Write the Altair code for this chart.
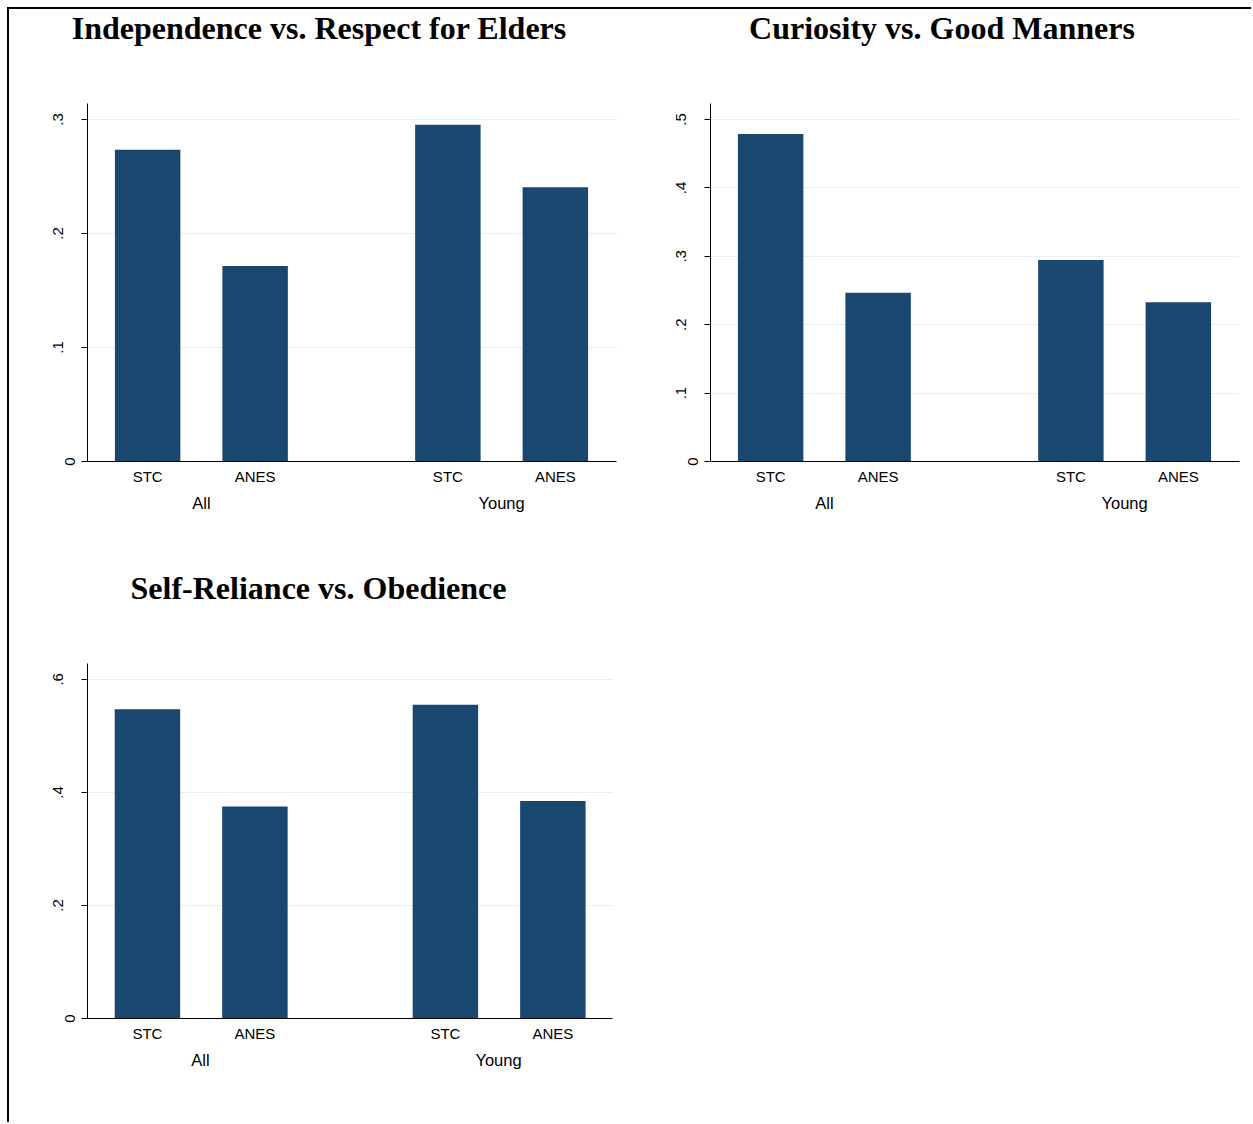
import altair as alt
import pandas as pd

# Survey shares by source (STC / ANES) and sample (All / Young)
sources = ["STC", "ANES"]
groups = ["All", "Young"]

# order: All-STC, All-ANES, Young-STC, Young-ANES
independence = [0.273, 0.171, 0.295, 0.240]
curiosity = [0.478, 0.246, 0.294, 0.232]
self_reliance = [0.546, 0.374, 0.554, 0.384]

titles = [
    "Independence vs. Respect for Elders",
    "Curiosity vs. Good Manners",
    "Self-Reliance vs. Obedience",
]
ticks_independence = [0, 0.1, 0.2, 0.3]
ticks_curiosity = [0, 0.1, 0.2, 0.3, 0.4, 0.5]
ticks_self_reliance = [0, 0.2, 0.4, 0.6]

NAVY = "#1a476f"
GRID = "#e9eef1"
SANS = "Liberation Sans"
SERIF = "Liberation Serif"


def panel(values, title, ticks, ymax, width, height, title_dx):
    df = pd.DataFrame({
        "group": [g for g in groups for _ in sources],
        "source": sources * len(groups),
        "share": values,
    })
    x = alt.X(
        "group:N", sort=groups,
        scale=alt.Scale(paddingInner=0.424, paddingOuter=0.093),
        axis=alt.Axis(
            title=None, labelAngle=0, ticks=False, tickSize=0,
            labelPadding=47, labelBaseline="alphabetic",
            labelFont=SANS, labelFontSize=16.5, labelColor="black",
            domainColor="black", domainWidth=1, grid=False,
        ),
    )
    xo = alt.XOffset(
        "source:N", sort=sources,
        scale=alt.Scale(paddingInner=0.391, paddingOuter=0),
    )
    yscale = alt.Scale(domain=[0, ymax], nice=False, zero=True)
    yaxis = alt.Axis(
        title=None, values=ticks,
        labelExpr="replace(format(datum.value, '.1~f'), /^0\\./, '.')",
        labelAngle=270, labelAlign="center",
        labelBaseline={"condition": {"test": "datum.value === 0", "value": "top"},
                       "value": "alphabetic"},
        labelPadding=19, labelFont=SANS, labelFontSize=15, labelColor="black",
        tickSize=6, tickColor="black", domainColor="black", domainWidth=1,
        grid=True, gridColor=GRID, gridWidth=1,
    )
    bars = alt.Chart(df).mark_bar(color=NAVY).encode(
        x=x, xOffset=xo, y=alt.Y("share:Q", scale=yscale, axis=yaxis)
    )
    names = alt.Chart(df).transform_calculate(base="0").mark_text(
        dy=21, baseline="alphabetic", font=SANS, fontSize=15, color="black"
    ).encode(
        x=x, xOffset=xo, y=alt.Y("base:Q", scale=yscale, axis=yaxis),
        text="source:N",
    )
    return alt.layer(bars, names).properties(
        width=width, height=height,
        title=alt.TitleParams(
            title, font=SERIF, fontSize=32, fontWeight="bold", color="black",
            anchor="middle", frame="group", baseline="alphabetic",
            offset=32, dx=title_dx,
        ),
    )


p1 = panel(independence, titles[0], ticks_independence, 0.314, 529, 358, -32.5)
p2 = panel(curiosity, titles[1], ticks_curiosity, 0.5234, 529, 358, -32.5)
p3 = panel(self_reliance, titles[2], ticks_self_reliance, 0.628, 525, 355, -31)

# outer frame of the graph region (top and left edges)
frame_df = pd.DataFrame({"edge": ["frame"]})
frame_top = alt.Chart(frame_df).mark_rule(color="black", strokeWidth=2).encode(
    x=alt.value(-702), x2=alt.value(541), y=alt.value(-655)
)
frame_left = alt.Chart(frame_df).mark_rule(color="black", strokeWidth=2).encode(
    x=alt.value(-702), y=alt.value(-656), y2=alt.value(459)
)
p4 = alt.layer(frame_top, frame_left).properties(width=529, height=355)

chart = alt.concat(
    p1, p2, p3, p4, columns=2,
    spacing={"row": 202, "column": 94}, bounds="flush",
).properties(
    padding={"left": 7, "top": 6, "right": 0, "bottom": 0},
    background="white",
).configure_view(stroke=None)

chart.save("out.html", embed_options={"renderer": "svg", "actions": False})
